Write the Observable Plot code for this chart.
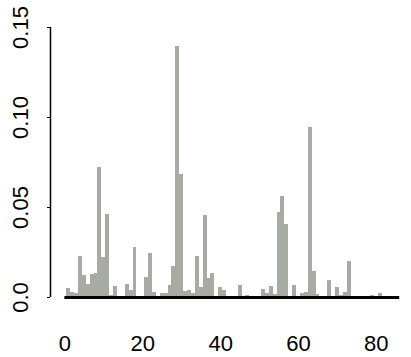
<!DOCTYPE html>
<html>
<head>
<meta charset="utf-8">
<script src="https://cdn.jsdelivr.net/npm/d3@7"></script>
<script src="https://cdn.jsdelivr.net/npm/@observablehq/plot@0.6"></script>
<style>
  html, body { margin: 0; padding: 0; background: #fff; }
  svg { display: block; }
</style>
</head>
<body>
<div id="chart"></div>
<script>
// Bin positions (integer values) that have non-zero proportion
const bins = [1, 2, 3, 4, 5, 6, 7, 8, 9, 10, 11, 12, 13, 16, 17, 18, 21, 22, 23, 25, 26, 27, 28, 29, 30,
  31, 32, 33, 34, 35, 36, 37, 38, 40, 41, 45, 47, 51, 52, 53, 54, 55, 56, 57, 59, 61, 62, 63, 64, 65,
  68, 70, 71, 72, 73, 79, 81];
// Proportion for each bin
const values = [0.005, 0.003, 0.002, 0.023, 0.012, 0.007, 0.013, 0.0135, 0.072, 0.022, 0.046, 0.001, 0.006,
  0.0075, 0.004, 0.028, 0.011, 0.0243, 0.003, 0.0024, 0.0024, 0.0067, 0.0172, 0.1393, 0.0683,
  0.0033, 0.0039, 0.0024, 0.023, 0.0054, 0.0458, 0.0104, 0.0132, 0.0053, 0.0037, 0.0067, 0.001,
  0.0043, 0.0024, 0.0061, 0.0018, 0.047, 0.056, 0.0406, 0.0067, 0.0024, 0.0028, 0.0943, 0.0146, 0.0016,
  0.0094, 0.0057, 0.001, 0.0026, 0.0202, 0.001, 0.002];
const xTicks = [0, 20, 40, 60, 80];
const yTicks = [0, 0.05, 0.10, 0.15];
const yTickLabels = ["0.0", "0.05", "0.10", "0.15"];

const data = bins.map((b, i) => ({bin: b, value: values[i]}));
const xDomain = [-3.7, 88];

const chart = Plot.plot({
  width: 411,
  height: 357,
  marginLeft: 50,
  marginRight: 4,
  marginTop: 27,
  marginBottom: 60,
  style: {fontFamily: "'Liberation Sans', Arial, Helvetica, sans-serif", background: "#fff", color: "#000"},
  x: {domain: xDomain, label: null},
  y: {domain: [0, 0.15], label: null},
  marks: [
    Plot.rectY(data, {x1: d => d.bin - 0.5, x2: d => d.bin + 0.5, y: "value", fill: "#a7aba3", inset: 0, shapeRendering: "crispEdges"}),
    Plot.ruleY([0], {x1: 0, x2: 86, stroke: "#000", strokeWidth: 3}),
    Plot.ruleX([xDomain[0]], {y1: yTicks[0], y2: yTicks[yTicks.length - 1], stroke: "#000", strokeWidth: 1.5}),
    Plot.axisY({
      ticks: yTicks,
      label: null,
      tickSize: 3,
      tickPadding: 20,
      tickRotate: -90,
      textAnchor: "middle",
      lineAnchor: "bottom",
      fontSize: 22,
      tickFormat: (d) => yTickLabels[yTicks.indexOf(d)],
      stroke: "#000"
    }),
    Plot.axisX({
      ticks: xTicks,
      label: null,
      tickSize: 0,
      tickPadding: 38,
      fontSize: 22
    })
  ]
});
document.getElementById("chart").appendChild(chart);
</script>
</body>
</html>
